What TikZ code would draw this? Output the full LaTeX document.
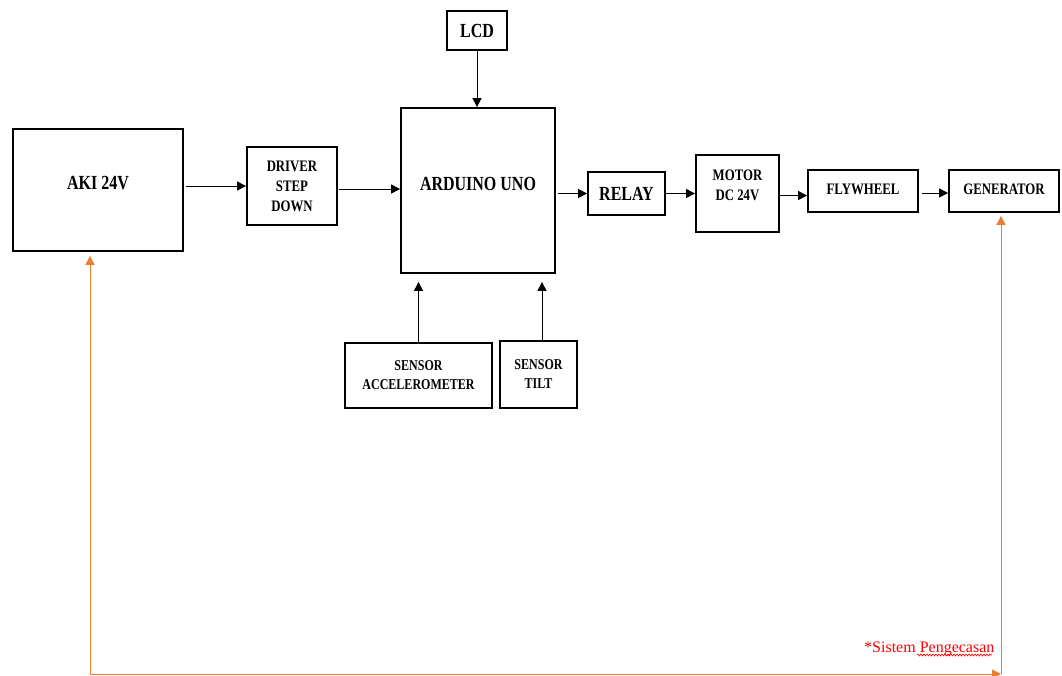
\documentclass[tikz,border=0pt]{standalone}
\usepackage{fontspec}
\setmainfont{Liberation Serif}
\newfontfamily\cf{Liberation Serif}[FakeStretch=0.8]
\usetikzlibrary{arrows.meta,decorations.pathmorphing}
\definecolor{oline}{RGB}{237,125,49}
\definecolor{rtext}{RGB}{255,0,0}
\begin{document}
\begin{tikzpicture}[x=1pt,y=-1pt,
  box/.style={draw, line width=1.8pt, align=center, inner sep=0pt,
    font=\cf\bfseries\fontsize{16}{20}\selectfont},
  bigtxt/.style={font=\cf\bfseries\fontsize{20}{24}\selectfont},
  smalltxt/.style={font=\cf\bfseries\fontsize{15}{19}\selectfont},
  arr/.style={line width=1pt, -{Triangle[length=9pt,width=9pt]}},
  oarr/.style={draw=oline, line width=1pt, -{Triangle[length=9pt,width=9pt,fill=oline]}}]
\useasboundingbox (0,0) rectangle (1062,675);

% boxes
\node[box, bigtxt, minimum width=170pt, minimum height=122pt, text depth=14pt] (aki) at (98,190) {AKI 24V};
\node[box, minimum width=90pt, minimum height=78pt] (drv) at (292,186) {DRIVER\\STEP\\DOWN};
\node[box, bigtxt, minimum width=154pt, minimum height=165pt, text depth=13pt] (ard) at (478,190.5) {ARDUINO UNO};
\node[box, bigtxt, minimum width=60pt, minimum height=39pt] (lcd) at (477,30.5) {LCD};
\node[box, bigtxt, minimum width=77pt, minimum height=43pt] (relay) at (626.5,193.5) {RELAY};
\node[box, minimum width=83pt, minimum height=77pt, text depth=17pt] (motor) at (737.5,193.5) {MOTOR\\DC 24V};
\node[box, minimum width=110pt, minimum height=42pt, text depth=4pt] (fly) at (863,191) {FLYWHEEL};
\node[box, minimum width=110pt, minimum height=42pt, text depth=4pt] (gen) at (1004,191) {GENERATOR};
\node[box, smalltxt, minimum width=147pt, minimum height=65pt] (acc) at (418.5,375.5) {SENSOR\\ACCELEROMETER};
\node[box, smalltxt, minimum width=77pt, minimum height=67pt] (tilt) at (538.5,374.5) {SENSOR\\TILT};

% black connectors
\draw[arr, shorten <=2pt] (aki.east |- drv.west) -- (drv.west);
\draw[arr, shorten <=1pt] ([yshift=-3pt]drv.east) -- ([yshift=-3pt]drv.east -| ard.west);
\draw[arr] (lcd.south) -- (lcd.south |- ard.north);
\draw[arr, shorten <=2pt] (ard.east |- relay.west) -- (relay.west);
\draw[arr] (relay.east) -- (motor.west);
\draw[arr] ([yshift=-2pt]motor.east) -- ([yshift=-2pt]motor.east -| fly.west);
\draw[arr, shorten <=3pt] ([yshift=-2pt]fly.east) -- ([yshift=-2pt]gen.west);
\draw[arr, shorten >=8pt] (acc.north) -- (acc.north |- ard.south);
\draw[arr, shorten >=8pt] ([xshift=3.5pt]tilt.north) -- ([xshift=3.5pt]tilt.north |- ard.south);

% orange charging loop
\coordinate (bl) at (90,674);
\coordinate (br) at (1001,674);
\draw[oarr, shorten >=4pt] (bl) -- (bl |- aki.south);
\draw[oarr] (bl) -- (br);
\draw[oarr, shorten >=3pt] (br) -- (br |- gen.south);

% note
\node[anchor=base west, inner sep=0pt, text=rtext, font=\fontsize{16}{19}\selectfont] (note) at (864,652) {*Sistem Pengecasan};
\draw[rtext, line width=0.6pt, decorate, decoration={snake, amplitude=1pt, segment length=3pt}] (917,655) -- (992,655);
\end{tikzpicture}
\end{document}
